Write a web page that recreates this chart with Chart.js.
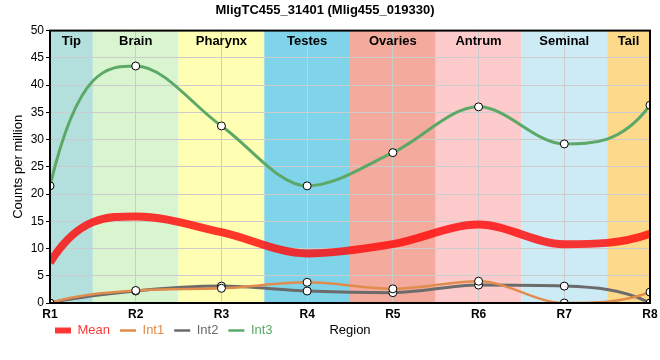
<!DOCTYPE html>
<html>
<head>
<meta charset="utf-8">
<script src="https://cdn.jsdelivr.net/npm/chart.js@4.4.1/dist/chart.umd.min.js"></script>
<style>
    html, body { margin: 0; padding: 0; background: #fff; }
    #wrap { width: 660px; height: 360px; }
</style>
</head>
<body>
<div id="wrap"><canvas id="chart"></canvas></div>
<script>
// Data
const regions = ['R1', 'R2', 'R3', 'R4', 'R5', 'R6', 'R7', 'R8'];
const meanValues = [7.4, 15.9, 13.0, 9.1, 10.8, 14.4, 10.8, 12.7];
const int1Values = [0, 2.3, 2.7, 3.8, 2.6, 4.0, 0, 2.0];
const int2Values = [0, 2.2, 3.1, 2.2, 1.9, 3.3, 3.1, 0];
const int3Values = [21.5, 43.5, 32.5, 21.5, 27.6, 36.0, 29.2, 36.3];

const tissueNames = ['Tip', 'Brain', 'Pharynx', 'Testes', 'Ovaries', 'Antrum', 'Seminal', 'Tail'];
const tissueColors = ['#b3e0dc', '#d9f5d0', '#ffffb3', '#80d4ea', '#f4aa9c', '#fdcbcb', '#cdebf5', '#fdd98c'];

const yTicksMax = 50;
const yTicksStep = 5;

const FONT = 'Arial, "Liberation Sans", sans-serif';
Chart.defaults.font.family = FONT;
Chart.defaults.color = '#000';

/**
 * Pozadinski pojasevi za tkiva + natpisi, okvir i naslov x ose
 */
const tissueBands = {
    id: 'tissueBands',
    afterLayout(chart) {
        // legenda počinje ispod leve ivice grafikona, malo podignuta
        const legend = chart.legend;
        legend.left = 45;
        legend.top -= 11;
        legend.bottom -= 11;
    },
    beforeDraw(chart) {
        const { ctx, chartArea, scales } = chart;
        const x = scales.x;
        ctx.save();
        tissueNames.forEach((name, i) => {
            const left = Math.max(x.getPixelForValue(i - 0.5), chartArea.left);
            const right = Math.min(x.getPixelForValue(i + 0.5), chartArea.right);
            ctx.fillStyle = tissueColors[i];
            ctx.fillRect(left, chartArea.top, right - left, chartArea.bottom - chartArea.top);
        });
        ctx.restore();
    },
    beforeDatasetsDraw(chart) {
        const { ctx, chartArea, scales } = chart;
        const x = scales.x;
        ctx.save();
        ctx.font = 'bold 13px ' + FONT;
        ctx.fillStyle = '#000';
        ctx.textAlign = 'center';
        ctx.textBaseline = 'middle';
        tissueNames.forEach((name, i) => {
            const left = Math.max(x.getPixelForValue(i - 0.5), chartArea.left);
            const right = Math.min(x.getPixelForValue(i + 0.5), chartArea.right);
            ctx.fillText(name, (left + right) / 2, chartArea.top + 11);
        });
        ctx.restore();
    },
    afterDraw(chart) {
        const { ctx, chartArea, legend } = chart;
        ctx.save();
        ctx.strokeStyle = '#000';
        ctx.lineWidth = 2;
        ctx.strokeRect(chartArea.left, chartArea.top, chartArea.right - chartArea.left, chartArea.bottom - chartArea.top);
        // naslov x ose u istom redu kao legenda
        const hb = legend.legendHitBoxes[0];
        ctx.font = '13px ' + FONT;
        ctx.fillStyle = '#000';
        ctx.textAlign = 'center';
        ctx.textBaseline = 'middle';
        ctx.fillText('Region', (chartArea.left + chartArea.right) / 2, hb.top + hb.height / 2);
        ctx.restore();
    }
};

/**
 * Strmije tangente na krajevima krivih (monotone interpolacija)
 */
const endTangents = {
    id: 'endTangents',
    afterDatasetsUpdate(chart) {
        chart.data.datasets.forEach((ds, i) => {
            const meta = chart.getDatasetMeta(i);
            const pts = meta.data;
            if (!meta.dataset || pts.length < 3) return;
            meta.dataset.updateControlPoints(chart.chartArea, 'x');

            const p0 = pts[0], p1 = pts[1];
            let dx = p1.x - p0.x;
            let s = (p1.y - p0.y) / dx;
            let t = p1.x !== p1.cp1x ? (p1.y - p1.cp1y) / (p1.x - p1.cp1x) : 0;
            let m = 3 * s - 2 * t;
            if (Math.sign(m) !== Math.sign(s)) m = 0;
            if (Math.abs(m) > 3 * Math.abs(s)) m = 3 * s;
            p0.cp2x = p0.x + dx / 3;
            p0.cp2y = p0.y + m * dx / 3;

            const pn = pts[pts.length - 1], pm = pts[pts.length - 2];
            dx = pn.x - pm.x;
            s = (pn.y - pm.y) / dx;
            t = pm.cp2x !== pm.x ? (pm.cp2y - pm.y) / (pm.cp2x - pm.x) : 0;
            m = 3 * s - 2 * t;
            if (Math.sign(m) !== Math.sign(s)) m = 0;
            if (Math.abs(m) > 3 * Math.abs(s)) m = 3 * s;
            pn.cp1x = pn.x - dx / 3;
            pn.cp1y = pn.y - m * dx / 3;
        });
    }
};

const lineDataset = (label, data, color, width, withPoints, order) => ({
    label: label,
    data: data,
    borderColor: color,
    backgroundColor: color,
    borderWidth: width,
    cubicInterpolationMode: 'monotone',
    pointRadius: withPoints ? 4 : 0,
    pointBackgroundColor: '#fff',
    pointBorderColor: '#000',
    pointBorderWidth: 1,
    fill: false,
    clip: 0,
    order: order
});

new Chart(document.getElementById('chart'), {
    type: 'line',
    data: {
        labels: regions,
        datasets: [
            lineDataset('Mean', meanValues, 'rgba(255, 10, 10, 0.82)', 8, false, 4),
            lineDataset('Int1', int1Values, '#e08c4c', 2.5, true, 2),
            lineDataset('Int2', int2Values, '#6b6b6b', 3, true, 3),
            lineDataset('Int3', int3Values, '#5ca866', 3, true, 1)
        ]
    },
    plugins: [tissueBands, endTangents],
    options: {
        responsive: true,
        maintainAspectRatio: false,
        animation: false,
        layout: {
            padding: { left: 0, right: 10, top: 0, bottom: 2 }
        },
        plugins: {
            title: {
                display: true,
                text: 'MligTC455_31401 (Mlig455_019330)',
                color: '#000',
                font: { size: 13, weight: 'bold' },
                padding: { top: 3, bottom: 12 }
            },
            legend: {
                display: true,
                position: 'bottom',
                align: 'start',
                labels: {
                    usePointStyle: true,
                    pointStyleWidth: 16,
                    padding: 10,
                    font: { size: 13 },
                    generateLabels(chart) {
                        return chart.data.datasets.map((ds, i) => ({
                            text: ds.label,
                            datasetIndex: i,
                            pointStyle: 'line',
                            strokeStyle: ds.borderColor,
                            fillStyle: ds.borderColor,
                            lineWidth: i === 0 ? 6 : 2.5,
                            fontColor: ds.borderColor,
                            hidden: false
                        }));
                    }
                }
            },
            tooltip: { enabled: false }
        },
        scales: {
            x: {
                grid: { color: '#cccccc', drawTicks: false },
                border: { color: '#000', width: 2 },
                ticks: { font: { size: 12, weight: 'bold' }, color: '#000', padding: 4 },
                afterFit(scale) {
                    scale.height = 22;
                    scale.paddingLeft = 0;
                    scale.paddingRight = 0;
                }
            },
            y: {
                min: 0,
                max: yTicksMax,
                grid: { color: '#cccccc', tickColor: '#000', tickLength: 4 },
                border: { color: '#000', width: 2 },
                ticks: { stepSize: yTicksStep, font: { size: 12 }, color: '#000', padding: 2 },
                title: {
                    display: true,
                    text: 'Counts per million',
                    color: '#000',
                    font: { size: 13 },
                    padding: { top: 11, bottom: 0 }
                },
                afterFit(scale) { scale.width = 50; }
            }
        }
    }
});
</script>
</body>
</html>
